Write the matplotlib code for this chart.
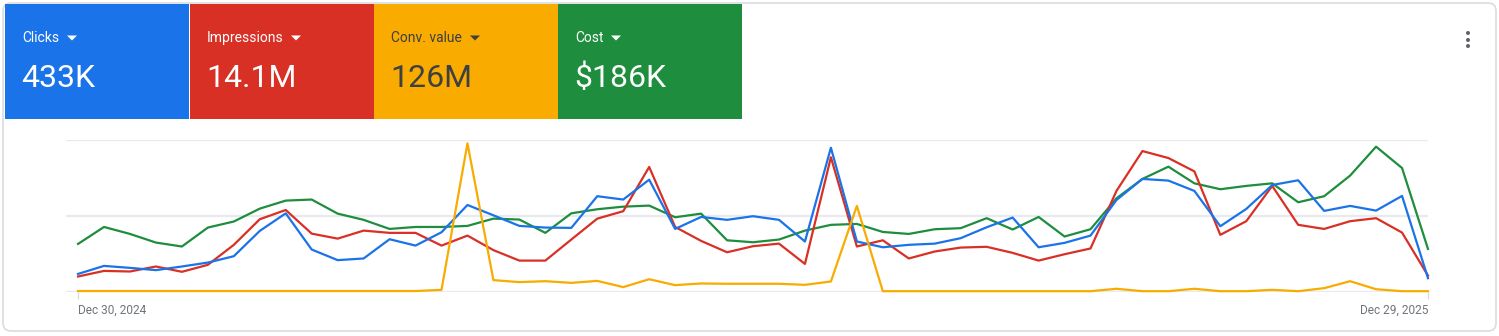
import numpy as np
import pandas as pd
import matplotlib.pyplot as plt
from matplotlib.patches import Rectangle, FancyBboxPatch, Polygon, Circle

plt.rcParams['font.family'] = ['Roboto', 'DejaVu Sans']

# weekly data, scaled so that the chart's top gridline is 100
dates = pd.date_range('2024-12-30', periods=53, freq='7D')

clicks = [11.6, 16.9, 15.6, 14.1, 16.5, 19.1, 23.3, 40.0, 51.6, 27.7, 20.7, 21.8, 34.5, 30.3,
          39.1, 57.1, 50.3, 43.3, 42.2, 42.0, 62.9, 60.7, 73.8, 41.3, 49.2, 47.3, 49.7, 47.3,
          33.0, 94.9, 33.0, 29.2, 30.8, 31.6, 35.2, 42.4, 48.8, 29.2, 32.1, 36.9, 60.4, 74.3,
          73.2, 66.4, 43.1, 54.5, 70.3, 73.4, 53.2, 56.5, 53.4, 63.1, 8.8]
impressions = [9.9, 13.6, 13.2, 16.5, 13.0, 17.6, 30.8, 47.7, 53.8, 38.2, 34.9, 40.2, 38.7, 38.7,
               30.3, 36.9, 27.3, 20.4, 20.4, 34.3, 48.1, 53.0, 82.2, 42.6, 33.4, 25.9, 29.9, 31.6,
               18.2, 88.6, 29.7, 33.8, 21.8, 26.4, 29.0, 29.5, 25.5, 20.4, 24.6, 28.4, 66.4, 92.7,
               88.1, 79.3, 37.4, 46.4, 69.7, 44.0, 41.3, 46.4, 48.4, 38.9, 10.5]
conv_value = [0.3, 0.3, 0.3, 0.3, 0.3, 0.3, 0.3, 0.3, 0.3, 0.3, 0.3, 0.3, 0.3, 0.3,
              1.1, 97.8, 7.5, 6.2, 6.8, 5.7, 7.0, 2.9, 8.1, 4.2, 5.3, 5.1, 5.1, 5.1,
              4.4, 6.6, 56.5, 0.2, 0.2, 0.2, 0.2, 0.2, 0.2, 0.2, 0.2, 0.2, 1.8, 0.2,
              0.2, 1.8, 0.2, 0.2, 1.1, 0.2, 2.2, 6.8, 1.5, 0.2, 0.2]
cost = [31.4, 42.6, 38.0, 32.3, 29.7, 42.2, 46.2, 54.7, 60.0, 60.7, 51.4, 47.3, 41.3, 42.6,
        42.6, 43.3, 48.1, 47.5, 38.7, 51.6, 54.3, 56.0, 56.7, 49.0, 51.4, 33.8, 32.5, 34.3,
        40.2, 44.0, 44.6, 39.3, 38.0, 41.1, 41.8, 48.4, 40.9, 49.2, 36.3, 41.1, 61.5, 74.3,
        82.4, 71.4, 67.5, 69.7, 71.4, 58.9, 62.9, 76.5, 95.6, 81.5, 28.1]

metric_names = ['Clicks', 'Impressions', 'Conv. value', 'Cost']
metric_totals = ['433K', '14.1M', '126M', '$186K']
colors = ['#1a73e8', '#d93025', '#f9ab00', '#1e8e3e']
text_colors = ['white', 'white', '#3c4043', 'white']

W, H = 1499, 336
fig = plt.figure(figsize=(W / 100, H / 100), dpi=100)
fig.patch.set_facecolor('white')

# background axes in pixel coords for the card/tiles
bg = fig.add_axes([0, 0, 1, 1])
bg.set_xlim(0, W)
bg.set_ylim(H, 0)
bg.axis('off')

bg.add_patch(FancyBboxPatch((3, 3), W - 6, 328, boxstyle='round,pad=0,rounding_size=8',
                            fc='white', ec='#dadce0', lw=1.2))

tile_x = [5, 190, 374, 558]
tile_w = 184
arrow_x = [72, 296, 475, 616]
for i in range(4):
    bg.add_patch(Rectangle((tile_x[i], 4), tile_w, 115, fc=colors[i], ec='none'))
    bg.text(tile_x[i] + 17, 42, metric_names[i], color=text_colors[i], fontsize=10,
            va='baseline', ha='left')
    bg.text(tile_x[i] + 16, 87, metric_totals[i], color=text_colors[i], fontsize=23,
            va='baseline', ha='left')
    ax_ = arrow_x[i]
    bg.add_patch(Polygon([(ax_ - 5, 35.5), (ax_ + 5, 35.5), (ax_, 40.5)], closed=True,
                         fc=text_colors[i], ec='none'))

# menu dots
for yy in [33, 40, 46]:
    bg.add_patch(Circle((1468, yy), 2.0, fc='#5f6368', ec='none'))

# chart
left, right, top, bottom = 66, 1428, 140, 291.5
ax = fig.add_axes([left / W, 1 - bottom / H, (right - left) / W, (bottom - top) / H])
ax.set_facecolor('none')
for s in ax.spines.values():
    s.set_visible(False)

for g in [0, 50, 100]:
    ax.axhline(g, color='#e8eaed', lw=1.6, zorder=0)

series = [clicks, impressions, conv_value, cost]
for vals, c, z in zip(series, colors, [3, 2, 4, 1]):
    ax.plot(dates, vals, color=c, lw=1.6, clip_on=False, zorder=z, solid_joinstyle='round')

ax.set_ylim(0, 100)
ax.set_xlim(dates[0] - pd.Timedelta(days=3.25), dates[-1])
ax.set_yticks([])
ax.set_xticks([dates[0], dates[-1]])
ax.set_xticklabels(['Dec 30, 2024', 'Dec 29, 2025'])
ax.tick_params(axis='x', length=5, width=1, color='#dadce0', labelcolor='#70757a',
               labelsize=8.6, pad=4)
labels = ax.get_xticklabels()
labels[0].set_ha('left')
labels[1].set_ha('right')

plt.savefig('out.png', dpi=100)
